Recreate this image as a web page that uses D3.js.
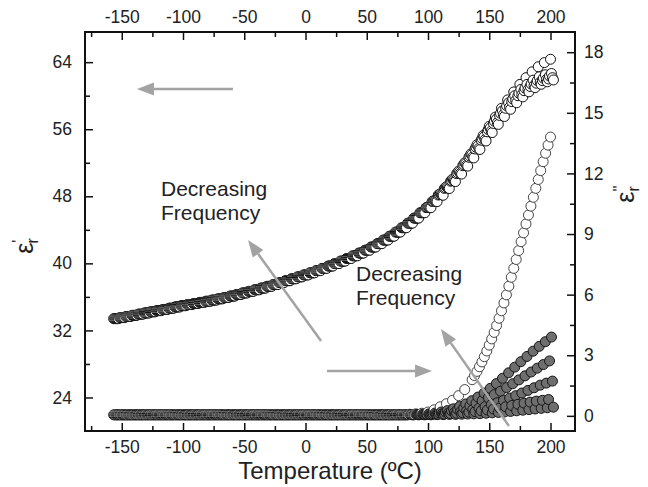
<!DOCTYPE html>
<html>
<head>
<meta charset="utf-8">
<script src="https://cdn.jsdelivr.net/npm/d3@7"></script>
<style>
  body { margin: 0; background: #fff; }
  text { font-family: "Liberation Sans", Arial, sans-serif; fill: #222; }
</style>
</head>
<body>
<div id="chart"></div>
<script>
var svgWidth = 648;
var svgHeight = 487;

// measured temperatures (ºC), one list per frequency (the sweep reads each frequency at a slightly different moment)
var temps1 = [-155,-150,-145,-140,-135,-130,-125,-120,-115,-110,-105,-100,-95,-90,-85,-80,-75,-70,-65,-60,
  -55,-50,-45,-40,-35,-30,-25,-20,-15,-10,-5,0,5,10,15,20,25,30,35,40,45,50,55,60,65,70,75,80,
  85,90,95,100,105,110,115,120,125,130,135,140,145,150,155,160,165,170,175,180,185,190,195,200];
var temps2 = [-154.2,-149.2,-144.2,-139.2,-134.2,-129.2,-124.2,-119.2,-114.2,-109.2,-104.2,-99.2,-94.2,-89.2,-84.2,-79.2,
  -74.2,-69.2,-64.2,-59.2,-54.2,-49.2,-44.2,-39.2,-34.2,-29.2,-24.2,-19.2,-14.2,-9.2,-4.2,0.8,5.8,10.8,15.8,20.8,
  25.8,30.8,35.8,40.8,45.8,50.8,55.8,60.8,65.8,70.8,75.8,80.8,85.8,90.8,95.8,100.8,105.8,110.8,115.8,120.8,125.8,
  130.8,135.8,140.8,145.8,150.8,155.8,160.8,165.8,170.8,175.8,180.8,185.8,190.8,195.8,200.8];
var temps3 = [-155.8,-150.8,-145.8,-140.8,-135.8,-130.8,-125.8,-120.8,-115.8,-110.8,-105.8,-100.8,-95.8,-90.8,-85.8,-80.8,
  -75.8,-70.8,-65.8,-60.8,-55.8,-50.8,-45.8,-40.8,-35.8,-30.8,-25.8,-20.8,-15.8,-10.8,-5.8,-0.8,4.2,9.2,14.2,19.2,
  24.2,29.2,34.2,39.2,44.2,49.2,54.2,59.2,64.2,69.2,74.2,79.2,84.2,89.2,94.2,99.2,104.2,109.2,114.2,119.2,124.2,
  129.2,134.2,139.2,144.2,149.2,154.2,159.2,164.2,169.2,174.2,179.2,184.2,189.2,194.2,199.2];
var temps4 = [-153.4,-148.4,-143.4,-138.4,-133.4,-128.4,-123.4,-118.4,-113.4,-108.4,-103.4,-98.4,-93.4,-88.4,-83.4,-78.4,
  -73.4,-68.4,-63.4,-58.4,-53.4,-48.4,-43.4,-38.4,-33.4,-28.4,-23.4,-18.4,-13.4,-8.4,-3.4,1.6,6.6,11.6,16.6,21.6,
  26.6,31.6,36.6,41.6,46.6,51.6,56.6,61.6,66.6,71.6,76.6,81.6,86.6,91.6,96.6,101.6,106.6,111.6,116.6,121.6,126.6,
  131.6,136.6,141.6,146.6,151.6,156.6,161.6,166.6,171.6,176.6,181.6,186.6,191.6,196.6,201.6];
var temps5 = [-156.6,-151.6,-146.6,-141.6,-136.6,-131.6,-126.6,-121.6,-116.6,-111.6,-106.6,-101.6,-96.6,-91.6,-86.6,-81.6,
  -76.6,-71.6,-66.6,-61.6,-56.6,-51.6,-46.6,-41.6,-36.6,-31.6,-26.6,-21.6,-16.6,-11.6,-6.6,-1.6,3.4,8.4,13.4,18.4,
  23.4,28.4,33.4,38.4,43.4,48.4,53.4,58.4,63.4,68.4,73.4,78.4,83.4,88.4,93.4,98.4,103.4,108.4,113.4,118.4,123.4,
  128.4,133.4,138.4,143.4,148.4,153.4,158.4,163.4,168.4,173.4,178.4,183.4,188.4,193.4,198.4];
var temps6 = [-152.6,-147.6,-142.6,-137.6,-132.6,-127.6,-122.6,-117.6,-112.6,-107.6,-102.6,-97.6,-92.6,-87.6,-82.6,-77.6,
  -72.6,-67.6,-62.6,-57.6,-52.6,-47.6,-42.6,-37.6,-32.6,-27.6,-22.6,-17.6,-12.6,-7.6,-2.6,2.4,7.4,12.4,17.4,22.4,
  27.4,32.4,37.4,42.4,47.4,52.4,57.4,62.4,67.4,72.4,77.4,82.4,87.4,92.4,97.4,102.4,107.4,112.4,117.4,122.4,127.4,
  132.4,137.4,142.4,147.4,152.4,157.4,162.4,167.4,172.4,177.4,182.4,187.4,192.4,197.4,202.4];

// eps' : common part (first 51 readings)
var realShared = [33.40,33.53,33.66,33.80,33.94,34.08,34.22,34.36,34.50,34.65,34.80,34.95,35.08,35.21,35.34,35.48,
  35.62,35.77,35.93,36.10,36.28,36.47,36.66,36.85,37.05,37.26,37.47,37.70,37.93,38.16,38.39,38.62,38.87,39.13,
  39.40,39.68,39.97,40.27,40.58,40.90,41.23,41.57,41.95,42.35,42.78,43.24,43.73,44.25,44.80,45.40,46.04];
// eps' : last 21 readings (~100..200 ºC), one per frequency, lowest frequency first
var realTail1 = [46.75,47.50,48.30,49.15,50.05,51.00,52.00,53.05,54.15,55.25,56.35,57.45,58.50,59.50,60.45,61.35,62.15,62.85,63.45,63.95,64.35];
var realTail2 = [46.70,47.45,48.25,49.10,49.95,50.90,51.90,52.95,54.00,55.10,56.15,57.20,58.20,59.15,60.00,60.75,61.35,61.85,62.25,62.50,62.65];
var realTail3 = [46.68,47.42,48.20,49.02,49.88,50.80,51.78,52.80,53.85,54.90,55.95,56.95,57.90,58.80,59.60,60.30,60.90,61.40,61.80,62.10,62.35];
var realTail4 = [46.66,47.40,48.17,48.98,49.83,50.74,51.70,52.70,53.72,54.76,55.78,56.78,57.74,58.62,59.42,60.12,60.72,61.22,61.62,61.92,62.15];
var realTail5 = [46.65,47.38,48.15,48.95,49.80,50.70,51.65,52.65,53.65,54.70,55.70,56.70,57.65,58.50,59.30,60.00,60.60,61.10,61.50,61.80,62.00];
var realTail6 = [46.64,47.36,48.12,48.92,49.76,50.65,51.60,52.58,53.58,54.60,55.60,56.58,57.52,58.38,59.16,59.86,60.46,60.96,61.36,61.66,61.88];

// eps'' : common flat part (first 48 readings)
var lossShared = [0.05,0.05,0.05,0.05,0.05,0.05,0.05,0.05,0.05,0.05,0.05,0.05,0.05,0.05,0.05,0.05,
  0.05,0.05,0.05,0.05,0.05,0.05,0.05,0.05,0.05,0.05,0.05,0.05,0.05,0.05,0.05,0.05,
  0.05,0.05,0.05,0.05,0.05,0.05,0.05,0.05,0.05,0.05,0.05,0.05,0.05,0.05,0.05,0.05];
// eps'' : last 24 readings (~85..200 ºC)
var lossTail2 = [0.06,0.07,0.08,0.10,0.14,0.19,0.26,0.35,0.46,0.59,0.75,0.93,1.13,1.36,1.60,1.86,2.13,2.41,2.68,2.94,3.20,3.44,3.67,3.90];
var lossTail3 = [0.06,0.06,0.07,0.08,0.11,0.15,0.19,0.25,0.32,0.40,0.50,0.62,0.75,0.89,1.05,1.22,1.40,1.59,1.78,1.98,2.17,2.36,2.54,2.72];
var lossTail4 = [0.06,0.06,0.06,0.07,0.08,0.10,0.13,0.16,0.20,0.25,0.31,0.38,0.46,0.55,0.65,0.76,0.88,1.00,1.13,1.26,1.39,1.52,1.62,1.72];
var lossTail5 = [0.05,0.05,0.06,0.06,0.07,0.08,0.09,0.11,0.13,0.15,0.18,0.21,0.25,0.29,0.34,0.39,0.45,0.51,0.57,0.63,0.68,0.73,0.77,0.81];
var lossTail6 = [0.05,0.05,0.05,0.05,0.06,0.06,0.07,0.07,0.08,0.09,0.10,0.11,0.13,0.15,0.17,0.19,0.22,0.25,0.28,0.31,0.34,0.37,0.40,0.43];
// lowest frequency eps'' : 85..130 ºC, then a finer run 136..200 ºC
var lossTail1 = [0.08,0.10,0.13,0.19,0.30,0.45,0.60,0.77,1.00,1.30];
var loss1FineT = [136,138,140,142,144,146,148,150,152,154,156,158,160,162,164,166,168,170,172,174,176,178,180,182,184,186,188,190,192,194,196,198,200];
var loss1FineV = [1.79,1.99,2.20,2.43,2.67,2.93,3.21,3.50,3.81,4.13,4.47,4.83,5.20,5.59,5.99,6.42,6.86,7.30,7.74,8.18,8.62,9.06,9.50,9.94,10.38,10.82,11.26,11.70,12.14,12.58,13.00,13.40,13.80];

var xMajor = [-150,-100,-50,0,50,100,150,200];
var xMinor = [-175,-125,-75,-25,25,75,125,175];
var leftMajor = [24,32,40,48,56,64];
var leftMinor = [28,36,44,52,60];
var rightMajor = [0,3,6,9,12,15,18];
var rightMinor = [1.5,4.5,7.5,10.5,13.5,16.5];

var frame = { left: 85, right: 575, top: 32, bottom: 431 };

var svg = d3.select("#chart")
  .append("svg")
  .attr("width", svgWidth)
  .attr("height", svgHeight);

var x = d3.scaleLinear().domain([-180, 220]).range([frame.left, frame.right]);
var yLeft = d3.scaleLinear().domain([20, 67.6]).range([frame.bottom, frame.top]);
var yRight = d3.scaleLinear().domain([-0.75, 19]).range([frame.bottom, frame.top]);

function makeSeries(ts, vs, k) {
  return d3.zip(ts, vs).map(function(p) { return { t: p[0], v: p[1], k: k }; });
}
var allTemps = [temps1, temps2, temps3, temps4, temps5, temps6];
var realTails = [realTail1, realTail2, realTail3, realTail4, realTail5, realTail6];
var lossTails = [null, lossTail2, lossTail3, lossTail4, lossTail5, lossTail6];

// all eps' readings, plotted in order of measurement temperature
var realPoints = [];
realTails.forEach(function(tail, i) {
  realPoints = realPoints.concat(makeSeries(allTemps[i], realShared.concat(tail), i));
});
realPoints.sort(function(a, b) { return a.t - b.t; });

svg.append("g").selectAll("circle")
  .data(realPoints)
  .enter()
  .append("circle")
  .attr("cx", d => x(d.t))
  .attr("cy", d => yLeft(d.v))
  .attr("r", 5)
  .attr("fill", "#fff")
  .attr("stroke", "#111")
  .attr("stroke-width", 1);

// all eps'' readings
var lossPoints = makeSeries(temps1.slice(0, 58).concat(loss1FineT), lossShared.concat(lossTail1).concat(loss1FineV), 0);
for (var j = 1; j < 6; j++) {
  lossPoints = lossPoints.concat(makeSeries(allTemps[j], lossShared.concat(lossTails[j]), j));
}
lossPoints.sort(function(a, b) { return a.t - b.t; });

svg.append("g").selectAll("circle")
  .data(lossPoints)
  .enter()
  .append("circle")
  .attr("cx", d => x(d.t))
  .attr("cy", d => yRight(d.v))
  .attr("r", 5)
  .attr("fill", d => (d.k === 0 || d.t < 90) ? "#fff" : "#6e6e6e")
  .attr("stroke", d => d.k === 0 ? "#444" : "#151515")
  .attr("stroke-width", 1);

// axes (ticks pointing inwards)
var fmt = function(d) { return String(d); };
function addAxis(axis, tr) {
  var g = svg.append("g").attr("transform", tr).call(axis);
  g.select(".domain").remove();
  g.selectAll("line").attr("stroke", "#111").attr("stroke-width", 1.5);
  g.selectAll("text").style("font-size", "17.5px").attr("fill", "#222");
  return g;
}
addAxis(d3.axisBottom(x).tickValues(xMajor).tickSize(-8).tickPadding(10).tickFormat(fmt), `translate(0,${frame.bottom})`);
addAxis(d3.axisBottom(x).tickValues(xMinor).tickSize(-5).tickFormat(""), `translate(0,${frame.bottom})`);
addAxis(d3.axisTop(x).tickValues(xMajor).tickSize(-8).tickPadding(9).tickFormat(fmt), `translate(0,${frame.top})`);
addAxis(d3.axisTop(x).tickValues(xMinor).tickSize(-5).tickFormat(""), `translate(0,${frame.top})`);
addAxis(d3.axisLeft(yLeft).tickValues(leftMajor).tickSize(-8).tickPadding(13).tickFormat(fmt), `translate(${frame.left},0)`);
addAxis(d3.axisLeft(yLeft).tickValues(leftMinor).tickSize(-5).tickFormat(""), `translate(${frame.left},0)`);
addAxis(d3.axisRight(yRight).tickValues(rightMajor).tickSize(-8).tickPadding(9).tickFormat(fmt), `translate(${frame.right},0)`);
addAxis(d3.axisRight(yRight).tickValues(rightMinor).tickSize(-5).tickFormat(""), `translate(${frame.right},0)`);

svg.append("rect")
  .attr("x", frame.left)
  .attr("y", frame.top)
  .attr("width", frame.right - frame.left)
  .attr("height", frame.bottom - frame.top)
  .attr("fill", "none")
  .attr("stroke", "#111")
  .attr("stroke-width", 2);

// axis titles
svg.append("text")
  .attr("x", 330)
  .attr("y", 479)
  .attr("text-anchor", "middle")
  .style("font-size", "24px")
  .text("Temperature (ºC)");

var leftLab = svg.append("text")
  .attr("transform", "translate(33,246) rotate(-90)")
  .attr("text-anchor", "middle")
  .style("font-size", "25px");
leftLab.append("tspan").text("ε");
leftLab.append("tspan").attr("dy", -9).style("font-size", "16px").text("'");
leftLab.append("tspan").attr("dx", -4).attr("dy", 14).style("font-size", "16px").text("r");

var rightLab = svg.append("text")
  .attr("transform", "translate(634,194) rotate(-90)")
  .attr("text-anchor", "middle")
  .style("font-size", "25px");
rightLab.append("tspan").text("ε");
rightLab.append("tspan").attr("dy", -9).style("font-size", "16px").text("''");
rightLab.append("tspan").attr("dx", -6).attr("dy", 14).style("font-size", "16px").text("r");

// annotations
var arrowColor = "#a3a3a3";
function arrow(x1, y1, x2, y2) {
  var a = Math.atan2(y2 - y1, x2 - x1);
  var len = 17, hw = 6.5;
  var bx = x2 - len * Math.cos(a), by = y2 - len * Math.sin(a);
  svg.append("line")
    .attr("x1", x1).attr("y1", y1).attr("x2", bx).attr("y2", by)
    .attr("stroke", arrowColor).attr("stroke-width", 2.5);
  svg.append("path")
    .attr("d", `M${x2},${y2}L${bx + hw * Math.sin(a)},${by - hw * Math.cos(a)}L${bx - hw * Math.sin(a)},${by + hw * Math.cos(a)}Z`)
    .attr("fill", arrowColor);
}
arrow(x(-59.2), yLeft(60.8), x(-137.6), yLeft(60.8));
arrow(x(17.6), yLeft(27.16), x(103.3), yLeft(27.16));
arrow(x(12.7), yLeft(30.74), x(-46.9), yLeft(42.79));
arrow(x(166.1), yRight(-0.5), x(110.6), yRight(4.3));

function label(x0, y0) {
  var t = svg.append("text").style("font-size", "21px");
  t.append("tspan").attr("x", x0).attr("y", y0).text("Decreasing");
  t.append("tspan").attr("x", x0).attr("y", y0 + 24).text("Frequency");
}
label(161, 196);
label(356, 281);
</script>
</body>
</html>
